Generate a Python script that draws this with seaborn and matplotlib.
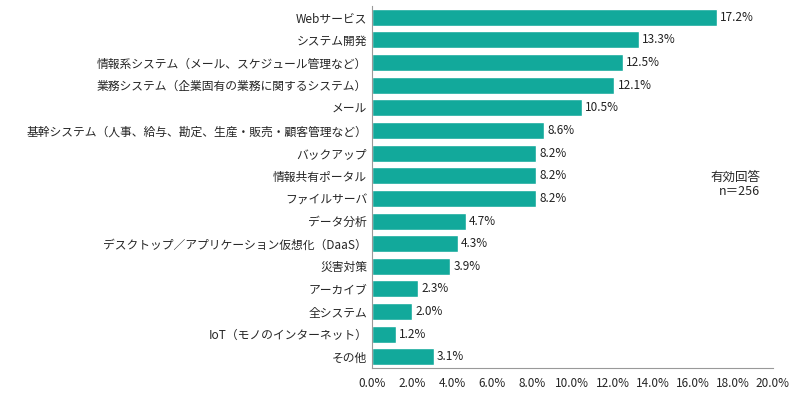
import pandas as pd
import matplotlib
matplotlib.use("Agg")
import matplotlib.pyplot as plt
import seaborn as sns

categories = [
    "Webサービス", "システム開発", "情報系システム（メール、スケジュール管理など）",
    "業務システム（企業固有の業務に関するシステム）", "メール",
    "基幹システム（人事、給与、勘定、生産・販売・顧客管理など）",
    "バックアップ", "情報共有ポータル", "ファイルサーバ", "データ分析",
    "デスクトップ／アプリケーション仮想化（DaaS）", "災害対策", "アーカイブ",
    "全システム", "IoT（モノのインターネット）", "その他",
]
values = [17.2, 13.3, 12.5, 12.1, 10.5, 8.6, 8.2, 8.2, 8.2, 4.7, 4.3, 3.9, 2.3, 2.0, 1.2, 3.1]
xticks = [0, 2, 4, 6, 8, 10, 12, 14, 16, 18, 20]

df = pd.DataFrame({"cat": categories, "val": values})

sns.set_style("white")
plt.rcParams["font.family"] = ["Noto Sans CJK JP", "DejaVu Sans"]

fig = plt.figure(figsize=(8, 4.01), dpi=100)
ax = fig.add_axes([0.465, 0.082, 0.501, 0.903])
sns.barplot(data=df, x="val", y="cat", color="#12A99B", width=0.75, ax=ax, saturation=1)

for i, v in enumerate(values):
    ax.text(v + 0.15, i, f"{v:.1f}%", va="center", ha="left", fontsize=8.5, color="#222222")

ax.set_xlim(0, 20)
ax.set_xticks(xticks)
ax.set_xticklabels([f"{t:.1f}%" for t in xticks], fontsize=8.5)
ax.tick_params(axis="y", labelsize=8.5, length=0)
ax.tick_params(axis="x", length=3, color="#999999")
ax.set_xlabel("")
ax.set_ylabel("")
for s in ["top", "right"]:
    ax.spines[s].set_visible(False)
for s in ["left", "bottom"]:
    ax.spines[s].set_color("#999999")

fig.text(0.95, 0.54, "有効回答\nn＝256", ha="right", va="center", fontsize=9, linespacing=1.2)

fig.savefig("out.png", dpi=100)
